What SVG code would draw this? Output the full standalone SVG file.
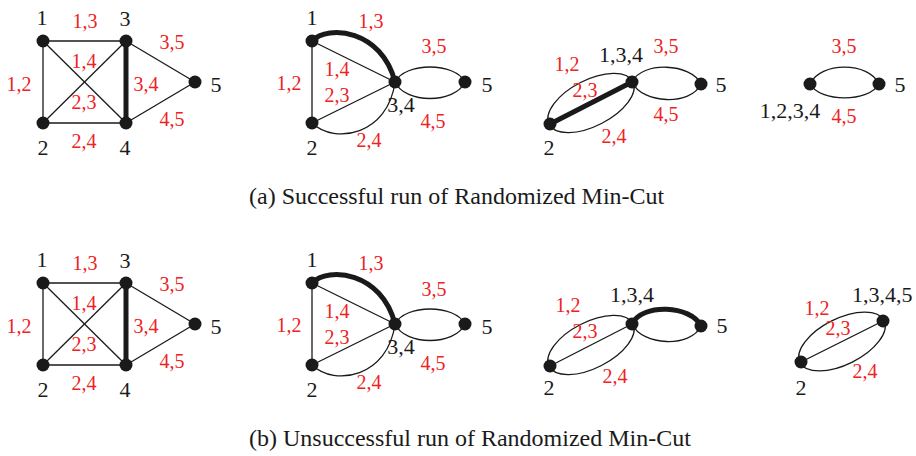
<svg xmlns="http://www.w3.org/2000/svg" width="916" height="456" viewBox="0 0 916 456">
<style>
  .e{fill:none;stroke:#1a1a1a;stroke-width:1.3}
  .t{fill:none;stroke:#1a1a1a;stroke-width:5;stroke-linecap:round}
  .n{fill:#1a1a1a}
  .k{font-family:"Liberation Serif","Times New Roman",serif;font-size:22px;fill:#1a1a1a;text-anchor:middle}
  .r{font-family:"Liberation Serif","Times New Roman",serif;font-size:20px;fill:#ee2222;text-anchor:middle}
  .c{font-family:"Liberation Serif","Times New Roman",serif;font-size:24px;fill:#1a1a1a}
</style>
<rect width="916" height="456" fill="#fff"/>

<!-- ===== (a) ===== -->
<g id="panel-a">
  <g id="a-connectors">
    <!-- a1 -->
    <line class="e" x1="43" y1="41" x2="126" y2="41"/>
    <line class="e" x1="43" y1="41" x2="43" y2="123"/>
    <line class="e" x1="43" y1="41" x2="126" y2="123"/>
    <line class="e" x1="43" y1="123" x2="126" y2="41"/>
    <line class="e" x1="43" y1="123" x2="126" y2="123"/>
    <line class="t" x1="126" y1="41" x2="126" y2="123"/>
    <line class="e" x1="126" y1="41" x2="195" y2="82"/>
    <line class="e" x1="126" y1="123" x2="195" y2="82"/>
    <!-- a2 -->
    <line class="e" x1="312" y1="41" x2="312" y2="123"/>
    <line class="e" x1="312" y1="41" x2="395" y2="82"/>
    <path class="t" d="M312,41 C328,24 382,30 395,82"/>
    <line class="e" x1="312" y1="123" x2="395" y2="82"/>
    <path class="e" d="M312,123 C335,145 388,135 395,82"/>
    <path class="e" d="M395,82 C405,62 455,62 465,82"/>
    <path class="e" d="M395,82 C405,104 455,104 465,82"/>
    <!-- a3 -->
    <ellipse class="e" cx="591" cy="103" rx="47" ry="23" transform="rotate(-27.1 591 103)"/>
    <line class="t" x1="550" y1="124" x2="632" y2="82"/>
    <path class="e" d="M632,82 C642,61 691,63 701,84"/>
    <path class="e" d="M632,82 C642,104 691,106 701,84"/>
    <!-- a4 -->
    <path class="e" d="M810,84 C820,61.5 869,61.5 879,84"/>
    <path class="e" d="M810,84 C820,102.5 869,102.5 879,84"/>
  </g>

  <!-- a1 nodes -->
  <g id="a1-n1"><circle class="n" cx="43" cy="41" r="6.5"/><text class="k" x="42" y="25">1</text></g>
  <g id="a1-n2"><circle class="n" cx="43" cy="123" r="6.5"/><text class="k" x="43" y="155">2</text></g>
  <g id="a1-n3"><circle class="n" cx="126" cy="41" r="6.5"/><text class="k" x="125" y="26">3</text></g>
  <g id="a1-n4"><circle class="n" cx="126" cy="123" r="6.5"/><text class="k" x="125" y="155">4</text></g>
  <g id="a1-n5"><circle class="n" cx="195" cy="82" r="6.5"/><text class="k" x="216" y="92">5</text></g>
  <g id="a1-labels">
    <text class="r" x="85" y="28">1,3</text>
    <text class="r" x="172" y="49">3,5</text>
    <text class="r" x="84" y="68">1,4</text>
    <text class="r" x="19" y="91">1,2</text>
    <text class="r" x="146" y="91">3,4</text>
    <text class="r" x="84" y="109">2,3</text>
    <text class="r" x="172" y="126">4,5</text>
    <text class="r" x="84" y="148">2,4</text>
  </g>

  <!-- a2 nodes -->
  <g id="a2-n1"><circle class="n" cx="312" cy="41" r="6.5"/><text class="k" x="312" y="25">1</text></g>
  <g id="a2-n2"><circle class="n" cx="312" cy="123" r="6.5"/><text class="k" x="312" y="155">2</text></g>
  <g id="a2-n34"><circle class="n" cx="395" cy="82" r="6.5"/><text class="k" x="401" y="112">3,4</text></g>
  <g id="a2-n5"><circle class="n" cx="465" cy="82" r="6.5"/><text class="k" x="487" y="92">5</text></g>
  <g id="a2-labels">
    <text class="r" x="371" y="28">1,3</text>
    <text class="r" x="434" y="53">3,5</text>
    <text class="r" x="289" y="90">1,2</text>
    <text class="r" x="337" y="76">1,4</text>
    <text class="r" x="337" y="102">2,3</text>
    <text class="r" x="433" y="128">4,5</text>
    <text class="r" x="369" y="147">2,4</text>
  </g>

  <!-- a3 nodes -->
  <g id="a3-n2"><circle class="n" cx="550" cy="124" r="6.5"/><text class="k" x="549" y="155">2</text></g>
  <g id="a3-n134"><circle class="n" cx="632" cy="82" r="6.5"/><text class="k" x="621" y="62">1,3,4</text></g>
  <g id="a3-n5"><circle class="n" cx="701" cy="84" r="6.5"/><text class="k" x="721" y="92">5</text></g>
  <g id="a3-labels">
    <text class="r" x="666" y="53">3,5</text>
    <text class="r" x="567" y="71">1,2</text>
    <text class="r" x="585" y="97">2,3</text>
    <text class="r" x="666" y="121">4,5</text>
    <text class="r" x="614" y="143">2,4</text>
  </g>

  <!-- a4 nodes -->
  <g id="a4-n1234"><circle class="n" cx="810" cy="84" r="6.5"/><text class="k" x="790" y="118">1,2,3,4</text></g>
  <g id="a4-n5"><circle class="n" cx="879" cy="84" r="6.5"/><text class="k" x="900" y="92">5</text></g>
  <g id="a4-labels">
    <text class="r" x="844" y="53">3,5</text>
    <text class="r" x="844" y="123">4,5</text>
  </g>

  <text id="caption-a" class="c" x="249" y="204">(a) Successful run of Randomized Min-Cut</text>
</g>

<!-- ===== (b) ===== -->
<g id="panel-b" transform="translate(0,242)">
  <g id="b-connectors">
    <!-- b1 -->
    <line class="e" x1="43" y1="41" x2="126" y2="41"/>
    <line class="e" x1="43" y1="41" x2="43" y2="123"/>
    <line class="e" x1="43" y1="41" x2="126" y2="123"/>
    <line class="e" x1="43" y1="123" x2="126" y2="41"/>
    <line class="e" x1="43" y1="123" x2="126" y2="123"/>
    <line class="t" x1="126" y1="41" x2="126" y2="123"/>
    <line class="e" x1="126" y1="41" x2="195" y2="82"/>
    <line class="e" x1="126" y1="123" x2="195" y2="82"/>
    <!-- b2 -->
    <line class="e" x1="312" y1="41" x2="312" y2="123"/>
    <line class="e" x1="312" y1="41" x2="395" y2="82"/>
    <path class="t" d="M312,41 C328,24 382,30 395,82"/>
    <line class="e" x1="312" y1="123" x2="395" y2="82"/>
    <path class="e" d="M312,123 C335,145 388,135 395,82"/>
    <path class="e" d="M395,82 C405,62 455,62 465,82"/>
    <path class="e" d="M395,82 C405,104 455,104 465,82"/>
    <!-- b3 -->
    <ellipse class="e" cx="591" cy="103" rx="47" ry="23" transform="rotate(-27.1 591 103)"/>
    <line class="e" x1="550" y1="124" x2="632" y2="82"/>
    <path class="t" d="M632,82 C642,61 691,63 701,84"/>
    <path class="e" d="M632,82 C642,104 691,106 701,84"/>
    <!-- b4 -->
    <ellipse class="e" cx="842" cy="99.5" rx="47" ry="23" transform="rotate(-26.6 842 99.5)"/>
    <line class="e" x1="801" y1="120" x2="883" y2="79"/>
  </g>

  <!-- b1 nodes -->
  <g id="b1-n1"><circle class="n" cx="43" cy="41" r="6.5"/><text class="k" x="42" y="25">1</text></g>
  <g id="b1-n2"><circle class="n" cx="43" cy="123" r="6.5"/><text class="k" x="43" y="155">2</text></g>
  <g id="b1-n3"><circle class="n" cx="126" cy="41" r="6.5"/><text class="k" x="125" y="26">3</text></g>
  <g id="b1-n4"><circle class="n" cx="126" cy="123" r="6.5"/><text class="k" x="125" y="155">4</text></g>
  <g id="b1-n5"><circle class="n" cx="195" cy="82" r="6.5"/><text class="k" x="216" y="92">5</text></g>
  <g id="b1-labels">
    <text class="r" x="85" y="28">1,3</text>
    <text class="r" x="172" y="49">3,5</text>
    <text class="r" x="84" y="68">1,4</text>
    <text class="r" x="19" y="91">1,2</text>
    <text class="r" x="146" y="91">3,4</text>
    <text class="r" x="84" y="109">2,3</text>
    <text class="r" x="172" y="126">4,5</text>
    <text class="r" x="84" y="148">2,4</text>
  </g>

  <!-- b2 nodes -->
  <g id="b2-n1"><circle class="n" cx="312" cy="41" r="6.5"/><text class="k" x="312" y="25">1</text></g>
  <g id="b2-n2"><circle class="n" cx="312" cy="123" r="6.5"/><text class="k" x="312" y="155">2</text></g>
  <g id="b2-n34"><circle class="n" cx="395" cy="82" r="6.5"/><text class="k" x="401" y="112">3,4</text></g>
  <g id="b2-n5"><circle class="n" cx="465" cy="82" r="6.5"/><text class="k" x="487" y="92">5</text></g>
  <g id="b2-labels">
    <text class="r" x="371" y="28">1,3</text>
    <text class="r" x="434" y="54">3,5</text>
    <text class="r" x="289" y="90">1,2</text>
    <text class="r" x="337" y="76">1,4</text>
    <text class="r" x="337" y="102">2,3</text>
    <text class="r" x="433" y="128">4,5</text>
    <text class="r" x="369" y="147">2,4</text>
  </g>

  <!-- b3 nodes -->
  <g id="b3-n2"><circle class="n" cx="550" cy="124" r="6.5"/><text class="k" x="549" y="153">2</text></g>
  <g id="b3-n134"><circle class="n" cx="632" cy="82" r="6.5"/><text class="k" x="632" y="60">1,3,4</text></g>
  <g id="b3-n5"><circle class="n" cx="701" cy="84" r="6.5"/><text class="k" x="722" y="91">5</text></g>
  <g id="b3-labels">
    <text class="r" x="568" y="70">1,2</text>
    <text class="r" x="585" y="96">2,3</text>
    <text class="r" x="615" y="141">2,4</text>
  </g>

  <!-- b4 nodes -->
  <g id="b4-n2"><circle class="n" cx="801" cy="120" r="6.5"/><text class="k" x="801" y="153">2</text></g>
  <g id="b4-n1345"><circle class="n" cx="883" cy="79" r="6.5"/><text class="k" x="852" y="60" style="text-anchor:start">1,3,4,5</text></g>
  <g id="b4-labels">
    <text class="r" x="817" y="73">1,2</text>
    <text class="r" x="838" y="93">2,3</text>
    <text class="r" x="865" y="136">2,4</text>
  </g>

  <text id="caption-b" class="c" x="249" y="204">(b) Unsuccessful run of Randomized Min-Cut</text>
</g>
</svg>
